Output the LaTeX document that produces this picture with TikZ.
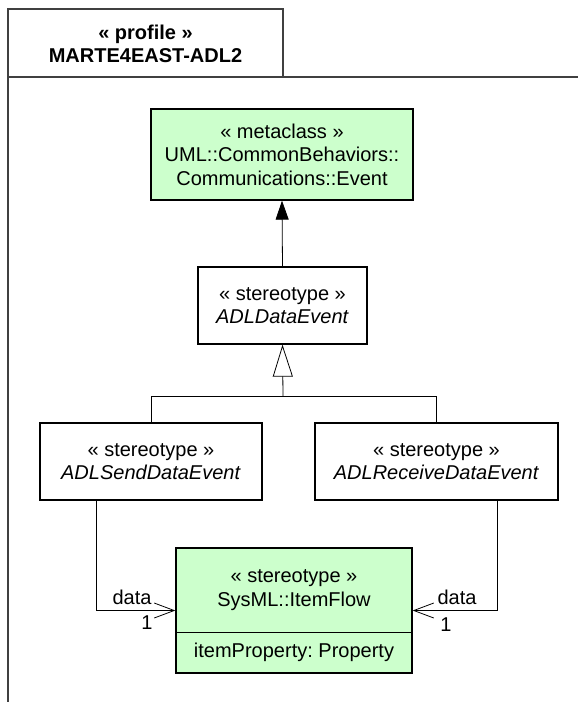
\documentclass[tikz,border=0pt]{standalone}
\usepackage{fontspec}
\setmainfont{Liberation Sans}
\usetikzlibrary{arrows.meta}
\definecolor{umlgreen}{HTML}{CCFFCC}
\frenchspacing
\begin{document}
\begin{tikzpicture}[x=1pt,y=-1pt,
  every node/.style={font=\fontsize{20}{23.5}\selectfont},
  box/.style={draw=black, line width=1.3pt, inner sep=0pt, align=center, anchor=center},
  metabox/.style={box, fill=umlgreen},
  txt/.style={inner sep=0pt, align=center, anchor=center},
  frameline/.style={draw=black!75, line width=1.5pt},
  conn/.style={line width=0.8pt},
  gen/.style={conn, -{Triangle[open, length=32pt, width=20pt, line width=0.8pt]}},
  ext/.style={conn, -{Triangle[length=19pt, width=13pt]}},
  assoc/.style={conn, -{Straight Barb[length=20pt, width=15pt, line width=0.8pt]}}
]
\useasboundingbox (0,0) rectangle (578,702);

% profile frame
\draw[frameline] (8,702) -- (8,9) -- (283,9) -- (283,77);
\draw[frameline] (8,77) -- (578,77);
\node[txt, font=\fontsize{20}{23.5}\selectfont\bfseries] (title) at (145.5,44) {« profile »\\MARTE4EAST-ADL2};

% classes
\node[metabox, minimum width=262pt, minimum height=91pt] (event) at (282,154.5)
  {« metaclass »\\UML::CommonBehaviors::\\Communications::Event};
\node[box, minimum width=169pt, minimum height=77pt] (ade) at (282.5,305.5)
  {« stereotype »\\\textit{ADLDataEvent}};
\node[box, minimum width=222pt, minimum height=77pt] (send) at (151,461.5)
  {« stereotype »\\\textit{ADLSendDataEvent}};
\node[box, minimum width=243pt, minimum height=77pt] (recv) at (436.5,461.5)
  {« stereotype »\\\textit{ADLReceiveDataEvent}};
\node[metabox, minimum width=236pt, minimum height=125pt] (item) at (294,610.5) {};
\draw[line width=1.0pt] (item.west |- 0,632) -- (item.east |- 0,632);
\node[txt] (itemname) at (294,590) {« stereotype »\\SysML::ItemFlow};
\node[txt] (itemattr) at (294,652.5) {itemProperty: Property};

% extension
\draw[ext] (ade.north) -- (event.south);

% generalizations
\coordinate (j) at (283,396);
\draw[conn] (send.north) |- (j);
\draw[conn] (recv.north) |- (j);
\draw[gen] (j) -- (ade.south);

% associations
\coordinate (la) at (96,611);
\coordinate (ra) at (497,611);
\draw[assoc] (send.south -| la) |- (item.west);
\draw[assoc] (recv.south -| ra) |- (item.east);

\node[txt] (ldata) at (132,597) {data};
\node[txt] (lone) at (147,623) {1};
\node[txt] (rdata) at (457,597) {data};
\node[txt] (rone) at (446,625) {1};
\end{tikzpicture}
\end{document}
